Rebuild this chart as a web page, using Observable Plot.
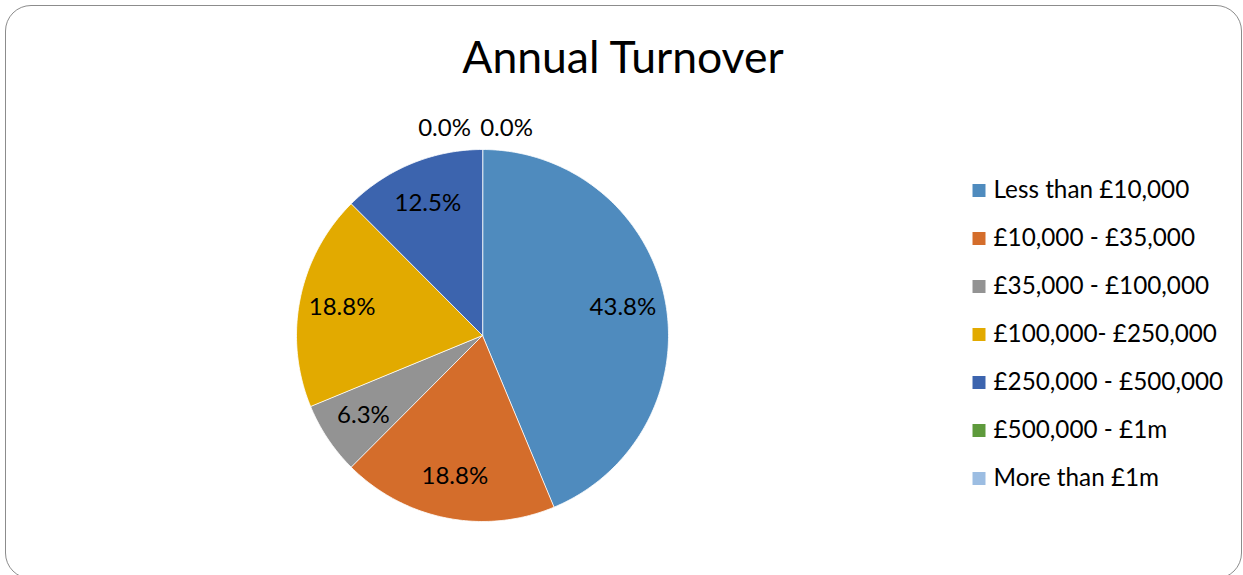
<!DOCTYPE html>
<html>
<head>
<meta charset="utf-8">
<script src="https://cdn.jsdelivr.net/npm/d3@7"></script>
<script src="https://cdn.jsdelivr.net/npm/@observablehq/plot@0.6"></script>
<style>
  html, body { margin: 0; padding: 0; background: #fff; }
  #chart { position: relative; width: 1243px; height: 575px; overflow: hidden; font-family: Lato, sans-serif; }
  #frame { position: absolute; left: 5px; top: 5px; width: 1237px; border: 1.6px solid #8c8c8c; border-radius: 26px; box-sizing: border-box; height: 574px; }
  #title { position: absolute; left: 6px; width: 1234px; top: 34px; text-align: center; font-size: 44.5px; color: #000; line-height: 1; }
  #pie { position: absolute; left: 262px; top: 115px; }
  #legend { position: absolute; left: 965px; top: 165px; }
</style>
</head>
<body>
<div id="chart">
  <div id="frame"></div>
  <div id="title">Annual Turnover</div>
  <div id="pie"></div>
  <div id="legend"></div>
</div>
<script>
const categories = [
  "Less than £10,000",
  "£10,000 - £35,000",
  "£35,000 - £100,000",
  "£100,000- £250,000",
  "£250,000 - £500,000",
  "£500,000 - £1m",
  "More than £1m"
];
const percents = [43.8, 18.8, 6.3, 18.8, 12.5, 0.0, 0.0];
const colors = ["#4f8bbe", "#d46d2b", "#939393", "#e2aa00", "#3c64ae", "#5e9a3c", "#9cbde2"];

const total = d3.sum(percents);
let cum = 0;
const slices = categories.map((key, i) => {
  const a0 = cum / total * 2 * Math.PI;
  cum += percents[i];
  const a1 = cum / total * 2 * Math.PI;
  return {key, value: percents[i], a0, a1, mid: (a0 + a1) / 2, i};
});

// polygon outline points for each slice (angle clockwise from top)
const pts = [];
for (const s of slices) {
  if (s.a1 - s.a0 <= 0) continue;
  pts.push({key: s.key, x: 0, y: 0});
  const n = Math.max(2, Math.ceil((s.a1 - s.a0) / (Math.PI / 180)));
  for (let j = 0; j <= n; j++) {
    const a = s.a0 + (s.a1 - s.a0) * j / n;
    pts.push({key: s.key, x: Math.sin(a), y: Math.cos(a)});
  }
}

// label positions
let zeroCount = 0;
const labels = slices.map(s => {
  if (s.value === 0) {
    const side = zeroCount++ === 0 ? -1 : 1;
    return {text: s.value.toFixed(1) + "%", x: 0, y: 1.115, dx: side < 0 ? -38 : 24};
  }
  const r = 0.77;
  return {text: s.value.toFixed(1) + "%", x: r * Math.sin(s.mid), y: r * Math.cos(s.mid), dx: 0};
});

const k = 220 / 186;
const colorScale = {domain: categories, range: colors};
const labelSize = 24;

const pie = Plot.plot({
  width: 440, height: 440, margin: 0,
  x: {domain: [-k, k], axis: null},
  y: {domain: [-k, k], axis: null},
  color: colorScale,
  style: {fontFamily: "Lato, sans-serif", background: "transparent", overflow: "visible"},
  marks: [
    Plot.line(pts, {x: "x", y: "y", z: "key", fill: "key", stroke: "white", strokeWidth: 1, strokeOpacity: 0.8, curve: "linear-closed"}),
    Plot.text(labels.filter(d => d.dx === 0), {x: "x", y: "y", text: "text", fontSize: labelSize, fill: "#000"}),
    Plot.text(labels.filter(d => d.dx < 0), {x: "x", y: "y", text: "text", fontSize: labelSize, fill: "#000", dx: -38}),
    Plot.text(labels.filter(d => d.dx > 0), {x: "x", y: "y", text: "text", fontSize: labelSize, fill: "#000", dx: 24})
  ]
});
document.getElementById("pie").append(pie);

const legend = Plot.plot({
  width: 270, height: 48.2 * categories.length, margin: 0,
  x: {axis: null},
  y: {domain: categories, axis: null, padding: 0.5},
  color: colorScale,
  style: {fontFamily: "Lato, sans-serif", background: "transparent", overflow: "visible"},
  marks: [
    Plot.dot(categories, {y: d => d, fill: d => d, symbol: "square", r: 7.33, frameAnchor: "left", dx: 13.5}),
    Plot.text(categories, {y: d => d, text: d => d, frameAnchor: "left", dx: 28, textAnchor: "start", fontSize: 24.3, fill: "#000"})
  ]
});
document.getElementById("legend").append(legend);
</script>
</body>
</html>
